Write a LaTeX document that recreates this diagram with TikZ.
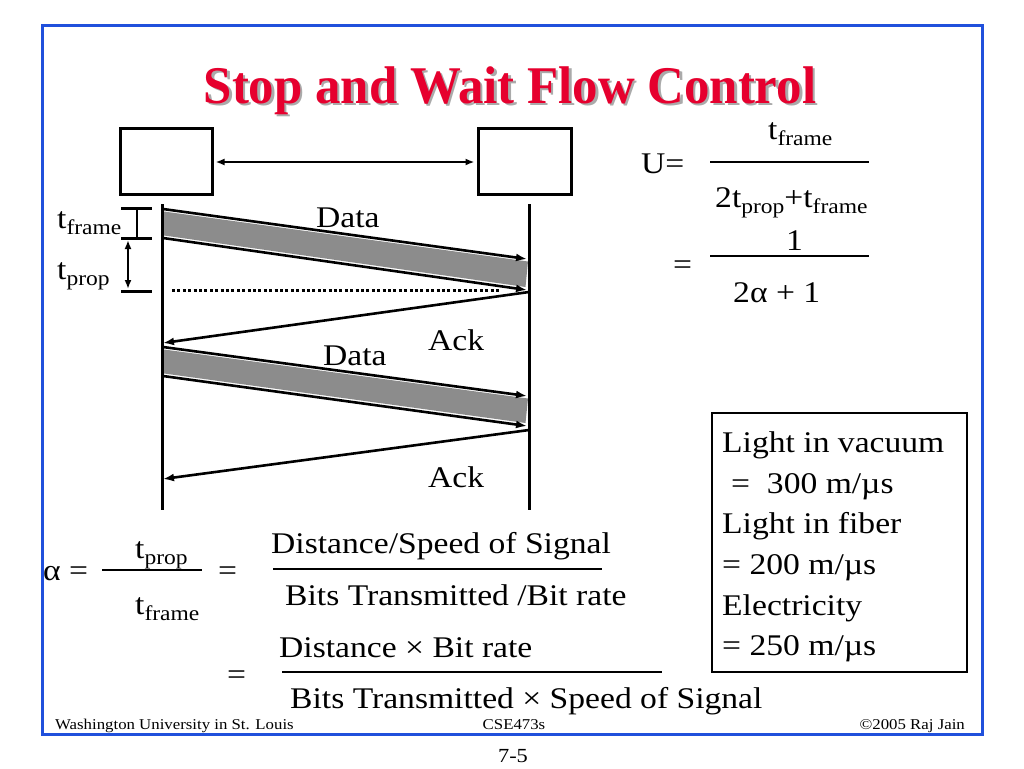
\documentclass[tikz,border=0pt]{standalone}
\usepackage{fontspec}
\setmainfont{Liberation Serif}[FakeStretch=1.12]
\newfontfamily\titlefont{Liberation Serif}[FakeStretch=0.96]
\usetikzlibrary{arrows.meta}
\definecolor{frameblue}{RGB}{32,80,220}
\definecolor{titlered}{RGB}{230,0,46}
\definecolor{shadowgray}{RGB}{170,170,170}
\definecolor{bandgray}{RGB}{140,140,140}
\newcommand{\tsub}[1]{t\raisebox{-6pt}{\fontsize{21}{21}\selectfont #1}}
\begin{document}
\begin{tikzpicture}[x=1pt,y=-1pt,
  txt/.style={inner sep=0pt, anchor=base west, font=\fontsize{30}{36}\selectfont},
  foot/.style={inner sep=0pt, font=\fontsize{15}{18}\selectfont},
  titlestyle/.style={inner sep=0pt, anchor=base, font=\titlefont\bfseries\fontsize{53}{60}\selectfont},
  thickline/.style={line width=3pt},
  fracline/.style={line width=2.6pt},
  arr/.style={line width=2.6pt, -{Latex[length=11pt,width=8pt]}},
  darr/.style={line width=1.8pt, {Latex[length=9pt,width=7pt]}-{Latex[length=9pt,width=7pt]}},
  hostbox/.style={draw, line width=3pt, minimum height=66pt, inner sep=0pt},
  band/.style={fill=bandgray, draw=none},
  dotline/.style={line width=3pt, dash pattern=on 3pt off 2.4pt},
]
\useasboundingbox (0,0) rectangle (1024,768);
\fill[white] (0,0) rectangle (1024,768);
\draw[frameblue, line width=3pt] (42,26) rectangle (982,734);

% title
\node[titlestyle, text=shadowgray] (titleshadow) at (512.5,105.5) {Stop and Wait Flow Control};
\node[titlestyle, text=titlered] (title) at (510,103) {Stop and Wait Flow Control};

% hosts
\node[hostbox, minimum width=92pt] (hostA) at (166,161) {};
\node[hostbox, minimum width=93pt] (hostB) at (524.5,161) {};
\draw[darr] ([xshift=2pt,yshift=-1pt]hostA.east) -- ([xshift=-2pt,yshift=-1pt]hostB.west);

% time lines
\coordinate (Atop) at (162,204);
\coordinate (Abot) at (162,510);
\coordinate (Btop) at (529,204);
\coordinate (Bbot) at (529,510);
\draw[thickline] (Atop) -- (Abot);
\draw[thickline] (Btop) -- (Bbot);

% data frame 1
\coordinate (d1s) at (163,209);
\coordinate (d1e) at (527,259);
\coordinate (d1S) at (163,238);
\coordinate (d1E) at (527,290);
\fill[band] (164,211.5) -- (528,261.5) -- (525.5,287) -- (164,235.5) -- cycle;
\draw[arr] (d1s) -- (d1e);
\draw[arr] (d1S) -- (d1E);

% ack 1
\coordinate (a1s) at (529,292);
\coordinate (a1e) at (163,343);
\draw[arr] (a1s) -- (a1e);

% data frame 2
\coordinate (d2s) at (163,347);
\coordinate (d2e) at (527,396);
\coordinate (d2S) at (163,376);
\coordinate (d2E) at (527,426);
\fill[band] (164,349.5) -- (528,398.5) -- (525.5,423) -- (164,373.5) -- cycle;
\draw[arr] (d2s) -- (d2e);
\draw[arr] (d2S) -- (d2E);

% ack 2
\coordinate (a2s) at (529,430);
\coordinate (a2e) at (163,479);
\draw[arr] (a2s) -- (a2e);

% tframe / tprop markers
\coordinate (tk1a) at (121,208); \coordinate (tk1b) at (152,208);
\coordinate (tk2a) at (121,238); \coordinate (tk2b) at (152,238);
\coordinate (tk3a) at (121,291); \coordinate (tk3b) at (152,291);
\draw[thickline] (tk1a) -- (tk1b);
\draw[thickline] (tk2a) -- (tk2b);
\draw[thickline] (tk3a) -- (tk3b);
\coordinate (ib1) at (137,208); \coordinate (ib2) at (137,238);
\draw[line width=2pt] (ib1) -- (ib2);
\coordinate (pa1) at (128,240); \coordinate (pa2) at (128,289);
\draw[darr] (pa1) -- (pa2);
\coordinate (dot1) at (172,290); \coordinate (dot2) at (499,290);
\draw[dotline] (dot1) -- (dot2);

% diagram labels
\node[txt] (lblframe) at (57,228) {\tsub{frame}};
\node[txt] (lblprop) at (57,279) {\tsub{prop}};
\node[txt] (data1) at (316,227) {Data};
\node[txt] (data2) at (323,365) {Data};
\node[txt] (ack1) at (428,350) {Ack};
\node[txt] (ack2) at (428,487) {Ack};

% utilisation formula
\node[txt] (Ueq) at (641,173) {U=};
\node[txt] (Unum) at (768,139) {\tsub{frame}};
\coordinate (uf1a) at (710,162); \coordinate (uf1b) at (869,162);
\draw[fracline] (uf1a) -- (uf1b);
\node[txt] (Uden) at (715,207) {2\tsub{prop}+\tsub{frame}};
\node[txt] (Unum2) at (786,250) {1};
\coordinate (uf2a) at (710,256); \coordinate (uf2b) at (869,256);
\draw[fracline] (uf2a) -- (uf2b);
\node[txt] (Ueq2) at (673,274) {=};
\node[txt] (Uden2) at (733,302) {2α + 1};

% speed box
\node[draw, line width=2.6pt, minimum width=255pt, minimum height=259pt, inner sep=0pt] (speedbox) at (839.5,542.5) {};
\node[txt] (s1) at (722,452) {Light in vacuum};
\node[txt] (s2) at (722,493) {\hspace*{9pt}=\ \ 300 m/µs};
\node[txt] (s3) at (722,533) {Light in fiber};
\node[txt] (s4) at (722,574) {= 200 m/µs};
\node[txt] (s5) at (722,615) {Electricity};
\node[txt] (s6) at (722,655) {= 250 m/µs};

% alpha formula
\node[txt] (alpha) at (43,580) {α =};
\node[txt] (anum) at (135,558) {\tsub{prop}};
\coordinate (af1a) at (102,570); \coordinate (af1b) at (202,570);
\draw[fracline] (af1a) -- (af1b);
\node[txt] (aden) at (135,614) {\tsub{frame}};
\node[txt] (aeq1) at (218,580) {=};
\node[txt] (bnum) at (271,553) {Distance/Speed of Signal};
\coordinate (bf1a) at (273,569); \coordinate (bf1b) at (602,569);
\draw[fracline] (bf1a) -- (bf1b);
\node[txt] (bden) at (285,605) {Bits Transmitted /Bit rate};
\node[txt] (cnum) at (279,657) {Distance × Bit rate};
\coordinate (cf1a) at (282,672); \coordinate (cf1b) at (662,672);
\draw[fracline] (cf1a) -- (cf1b);
\node[txt] (aeq2) at (227,684) {=};
\node[txt] (cden) at (290,708) {Bits Transmitted × Speed of Signal};

% footer
\node[foot, anchor=base west] (footL) at (55,729) {Washington University in St. Louis};
\node[foot, anchor=base] (footC) at (514,729) {CSE473s};
\node[foot, anchor=base east] (footR) at (965,729) {©2005 Raj Jain};
\node[inner sep=0pt, anchor=base, font=\fontsize{20}{24}\selectfont] (pageno) at (513,762) {7-5};
\end{tikzpicture}
\end{document}
